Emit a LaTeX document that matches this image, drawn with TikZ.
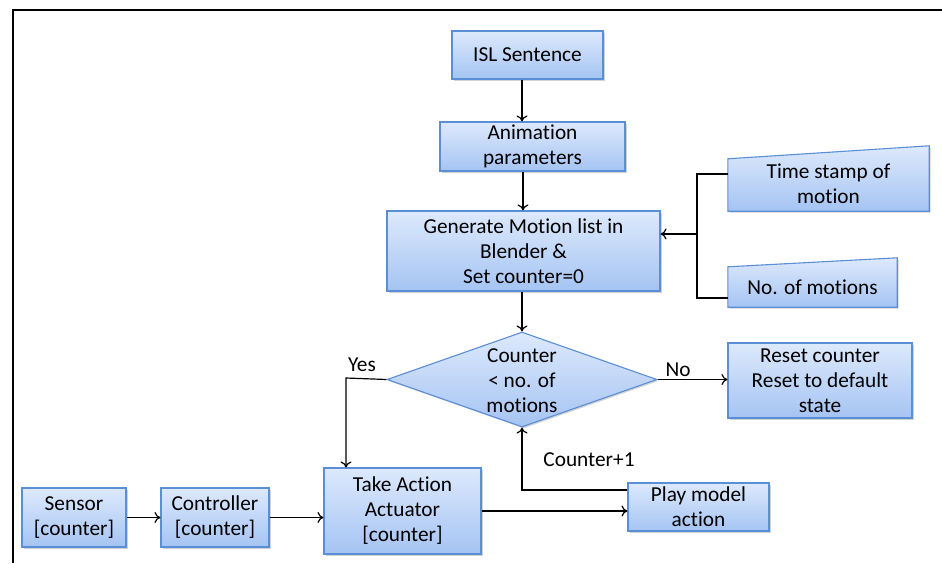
\documentclass[tikz,border=0pt]{standalone}
\usepackage{fontspec}
\setmainfont[Ligatures=NoCommon]{Carlito}
\usetikzlibrary{shapes.geometric,arrows.meta,shadows}
\definecolor{boxtop}{HTML}{DDE9FC}
\definecolor{boxbot}{HTML}{A5C4F3}
\definecolor{boxline}{HTML}{5A8ED6}
\tikzset{
  fillbox/.style={top color=boxtop, bottom color=boxbot, draw=boxline, line width=1.1pt,
    drop shadow={shadow xshift=1.5pt, shadow yshift=-1.5pt, opacity=0.35, fill=gray}},
  blk/.style={fillbox, rectangle, inner sep=0pt, align=center},
  txt/.style={inner sep=0pt, align=center},
  conn/.style={line width=1.2pt, black},
  arr/.style={conn, -{To[length=6pt,width=11pt]}},
  lbl/.style={inner sep=0pt}
}
\begin{document}
\begin{tikzpicture}[x=1pt,y=-1pt, font=\fontsize{21.3}{25}\selectfont]
\useasboundingbox (0,0) rectangle (942,563);
\fill[white] (0,0) rectangle (942,563);
% frame
\draw[line width=2.5pt] (13,563) -- (13,10) -- (942,10);

% boxes
\node[blk, minimum width=151pt, minimum height=48pt] (isl) at (527.5,55) {ISL Sentence};
\node[blk, minimum width=185pt, minimum height=49pt] (anim) at (532.5,146.5) {Animation\\parameters};
\node[blk, minimum width=273pt, minimum height=80pt] (gen) at (523.5,251) {Generate Motion list in\\Blender \&\\Set counter=0};

% manual input shapes
\node[txt, minimum width=201pt, minimum height=52pt] (ts) at (828.5,185) {};
\path[fillbox] (ts.south west) -- (ts.south east) -- ([yshift=13pt]ts.north east) -- (ts.north west) -- cycle;
\node[txt] at ([yshift=1pt]ts.center) {Time stamp of\\motion};
\node[txt, minimum width=169pt, minimum height=40pt] (nm) at (812.5,287) {};
\path[fillbox] (nm.south west) -- (nm.south east) -- ([yshift=9pt]nm.north east) -- (nm.north west) -- cycle;
\node[txt] at (nm) {No. of motions};

% decision
\node[diamond, fillbox, minimum width=270pt, minimum height=95pt, inner sep=0pt] (dec) at (522,379.5) {};
\node[txt] at ([yshift=-1pt]dec.center) {Counter\\< no. of\\motions};

\node[blk, minimum width=184pt, minimum height=75pt] (reset) at (820,380.5) {Reset counter\\Reset to default\\state};

\node[blk, minimum width=104pt, minimum height=59pt] (sensor) at (74,517.5) {Sensor\\{[}counter{]}};
\node[blk, minimum width=108pt, minimum height=59pt] (ctrl) at (215,517.5) {Controller\\{[}counter{]}};
\node[blk, minimum width=157pt, minimum height=86pt] (take) at (402.5,511) {Take Action\\Actuator\\{[}counter{]}};
\node[blk, minimum width=141pt, minimum height=48pt] (play) at (698.5,507) {Play model\\action};

% connectors
\draw[arr] (isl.south -| 522,0) -- (anim.north -| 522,0);
\draw[arr] (anim.south -| 523,0) -- (gen.north -| 523,0);
\draw[arr] (gen.south -| 522,0) -- (dec.north);

\coordinate (bt) at (697,174);
\coordinate (bb) at (697,298);
\coordinate (bm) at (697,234);
\draw[conn] (bt -| ts.west) -- (bt) -- (bb) -- (bb -| nm.west);
\draw[arr] (bm) -- (bm -| gen.east);

\coordinate (yc) at (346,378);
\draw[arr] (dec.west) -- (yc) -- (yc |- take.north);
\draw[arr] (dec.east) -- (dec.east -| reset.west);

\coordinate (cp) at (522,490);
\draw[arr] (cp -| play.west) -- (cp) -- (dec.south);

\draw[arr] (sensor.east) -- (ctrl.west);
\draw[arr] (ctrl.east) -- (take.west |- ctrl.east);
\draw[arr] (take.east) -- (take.east -| play.west);

% labels
\node[lbl] at (362,365) {Yes};
\node[lbl] at (678,370) {No};
\node[lbl] at (589,460) {Counter+1};
\end{tikzpicture}
\end{document}
